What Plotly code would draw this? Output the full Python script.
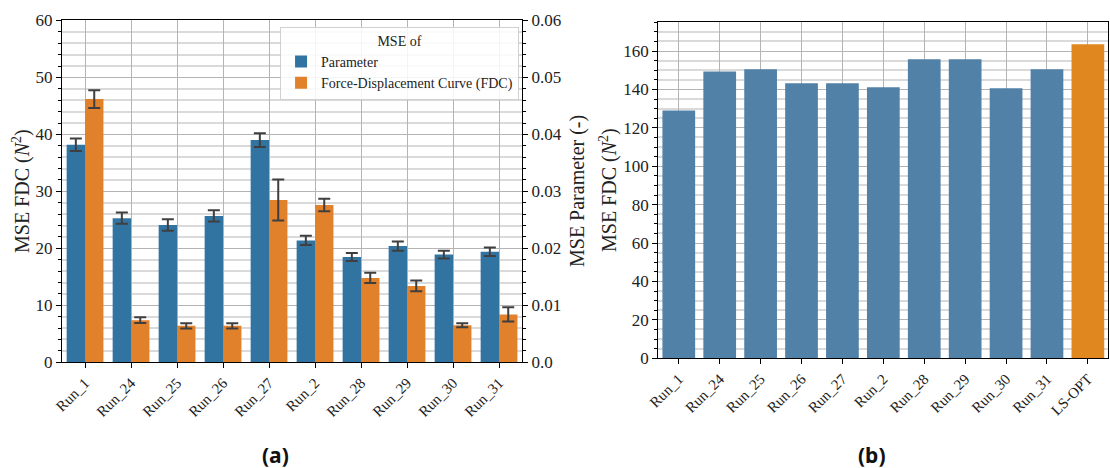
import plotly.graph_objects as go

# ---------------- data ----------------
runs_a = ["Run_1", "Run_24", "Run_25", "Run_26", "Run_27", "Run_2", "Run_28", "Run_29", "Run_30", "Run_31"]
param_mse = [0.0382, 0.0253, 0.0241, 0.0257, 0.0390, 0.0214, 0.0185, 0.0204, 0.0189, 0.0194]
param_err = [0.0011, 0.0010, 0.0010, 0.0010, 0.0012, 0.0008, 0.0007, 0.0008, 0.0007, 0.00075]
fdc_mse = [46.2, 7.4, 6.4, 6.4, 28.5, 27.6, 14.8, 13.4, 6.5, 8.4]
fdc_err = [1.55, 0.5, 0.45, 0.45, 3.6, 1.1, 0.9, 0.95, 0.35, 1.25]

runs_b = ["Run_1", "Run_24", "Run_25", "Run_26", "Run_27", "Run_2", "Run_28", "Run_29", "Run_30", "Run_31", "LS-OPT"]
fdc_b = [129.1, 149.4, 150.5, 143.2, 143.2, 141.1, 155.7, 155.7, 140.6, 150.5, 163.5]

y2_ticks = [0.0, 0.01, 0.02, 0.03, 0.04, 0.05, 0.06]
y2_ticktext = ["0.0", "0.01", "0.02", "0.03", "0.04", "0.05", "0.06"]

BLUE_A = "#3274A1"
ORANGE_A = "#E1812C"
BLUE_B = "#5281A7"
ORANGE_B = "#E0881F"
ERR = "#3f3f3f"
FONT = "Liberation Serif"
MAJ = "#b4b4b4"
MIN = "#dadada"

fig = go.Figure()

fig.add_trace(go.Bar(
    x=runs_a, y=param_mse, name="Parameter", xaxis="x", yaxis="y2",
    marker=dict(color=BLUE_A, line=dict(width=0)),
    offset=-0.4, width=0.4,
    error_y=dict(type="data", array=param_err, color=ERR, thickness=2, width=6),
))
fig.add_trace(go.Bar(
    x=runs_a, y=fdc_mse, name="Force-Displacement Curve (FDC)", xaxis="x", yaxis="y",
    marker=dict(color=ORANGE_A, line=dict(width=0)),
    offset=0.0, width=0.4,
    error_y=dict(type="data", array=fdc_err, color=ERR, thickness=2, width=6),
))
colors_b = [BLUE_B] * (len(runs_b) - 1) + [ORANGE_B]
fig.add_trace(go.Bar(
    x=runs_b, y=fdc_b, xaxis="x3", yaxis="y3", showlegend=False,
    marker=dict(color=colors_b, line=dict(width=0)), width=0.8,
))

tickfont = dict(family=FONT, size=17, color="#222")
xtickfont = dict(family=FONT, size=15, color="#222")

fig.update_layout(
    width=1110, height=468,
    margin=dict(l=0, r=0, t=0, b=0, autoexpand=False),
    paper_bgcolor="white", plot_bgcolor="white",
    barmode="overlay",
    font=dict(family=FONT, color="#222"),
    xaxis=dict(
        domain=[0.0559, 0.4703], anchor="y", range=[-0.5, 9.5], automargin=False,
        showline=True, linecolor="black", linewidth=1.2, mirror=True,
        ticks="outside", ticklen=5, tickcolor="black", tickangle=-45,
        tickfont=xtickfont, showgrid=True, gridcolor=MAJ, gridwidth=1,
    ),
    yaxis=dict(
        domain=[0.2259, 0.9562], anchor="x", range=[0, 60], automargin=False,
        showline=True, linecolor="black", linewidth=1.2,
        ticks="outside", ticklen=5, tickcolor="black", dtick=10,
        tickfont=tickfont, showgrid=True, gridcolor=MAJ, gridwidth=1,
        zeroline=False,
        minor=dict(dtick=2, ticks="outside", ticklen=3, tickcolor="black",
                   showgrid=True, gridcolor=MIN, gridwidth=1.5),
    ),
    yaxis2=dict(
        overlaying="y", side="right", anchor="x", range=[0, 0.06], automargin=False,
        showline=True, linecolor="black", linewidth=1.2,
        ticks="outside", ticklen=5, tickcolor="black",
        tickvals=y2_ticks, ticktext=y2_ticktext,
        tickfont=tickfont, showgrid=False, zeroline=False,
        minor=dict(dtick=0.002, ticks="outside", ticklen=3, tickcolor="black",
                   showgrid=False),
    ),
    xaxis3=dict(
        domain=[0.5931, 0.9985], anchor="y3", range=[-0.5, 10.5], automargin=False,
        showline=True, linecolor="black", linewidth=1.2, mirror=True,
        ticks="outside", ticklen=5, tickcolor="black", tickangle=-45,
        tickfont=xtickfont, showgrid=True, gridcolor=MAJ, gridwidth=1,
    ),
    yaxis3=dict(
        domain=[0.2344, 0.9524], anchor="x3", range=[0, 175], automargin=False,
        showline=True, linecolor="black", linewidth=1.2, mirror=True,
        ticks="outside", ticklen=5, tickcolor="black", dtick=20,
        tickfont=tickfont, showgrid=True, gridcolor=MAJ, gridwidth=1,
        zeroline=False,
        minor=dict(dtick=5, ticks="outside", ticklen=3, tickcolor="black",
                   showgrid=True, gridcolor=MIN, gridwidth=1.5),
    ),
    legend=dict(
        x=0.2523, y=0.943, xanchor="left", yanchor="top",
        bgcolor="rgba(255,255,255,0.85)", bordercolor="#d0d0d0", borderwidth=1,
        font=dict(family=FONT, size=14, color="#222"),
        title=dict(text="MSE of", side="top center", font=dict(family=FONT, size=14, color="#222")),
        tracegroupgap=0, itemsizing="constant",
    ),
    annotations=[
        dict(text="MSE FDC (<i>N</i><sup>2</sup>)", x=21 / 1110, y=1 - 191 / 468,
             xref="paper", yref="paper", xanchor="center", yanchor="middle",
             textangle=-90, showarrow=False,
             font=dict(family=FONT, size=20, color="#222")),
        dict(text="MSE Parameter (-)", x=577 / 1110, y=1 - 191 / 468,
             xref="paper", yref="paper", xanchor="center", yanchor="middle",
             textangle=-90, showarrow=False,
             font=dict(family=FONT, size=20, color="#222")),
        dict(text="MSE FDC (<i>N</i><sup>2</sup>)", x=608 / 1110, y=1 - 190 / 468,
             xref="paper", yref="paper", xanchor="center", yanchor="middle",
             textangle=-90, showarrow=False,
             font=dict(family=FONT, size=20, color="#222")),
        dict(text="<b>(a)</b>", x=275 / 1110, y=1 - 455 / 468,
             xref="paper", yref="paper", xanchor="center", yanchor="middle",
             showarrow=False,
             font=dict(family="Noto Sans", size=21, color="#111")),
        dict(text="<b>(b)</b>", x=872 / 1110, y=1 - 455 / 468,
             xref="paper", yref="paper", xanchor="center", yanchor="middle",
             showarrow=False,
             font=dict(family="Noto Sans", size=21, color="#111")),
    ],
)

fig.write_html("out.html")
